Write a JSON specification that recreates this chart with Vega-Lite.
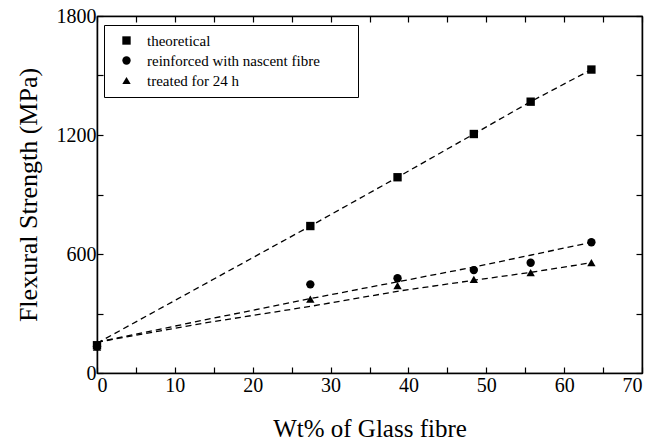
{
  "$schema": "https://vega.github.io/schema/vega-lite/v6.json",
  "width": 545,
  "height": 357,
  "autosize": {"type": "none"},
  "padding": {"left": 97, "top": 16, "right": 22, "bottom": 70},
  "background": "white",
  "config": {
    "font": "Liberation Serif",
    "view": {"stroke": "black", "strokeWidth": 1.2},
    "axis": {
      "grid": false,
      "domainColor": "black",
      "domainWidth": 1.5,
      "tickColor": "black",
      "tickWidth": 1.2,
      "labelColor": "black",
      "titleColor": "black",
      "labelFont": "Liberation Serif",
      "titleFont": "Liberation Serif",
      "labelFontSize": 20,
      "titleFontSize": 25,
      "titleFontWeight": "normal"
    },
    "legend": {"strokeColor": "black", "labelFont": "Liberation Serif"}
  },
  "datasets": {
    "points": [
      {"wt": 0, "strength": 140, "series": "theoretical"},
      {"wt": 27.4, "strength": 741, "series": "theoretical"},
      {"wt": 38.6, "strength": 987, "series": "theoretical"},
      {"wt": 48.4, "strength": 1205, "series": "theoretical"},
      {"wt": 55.7, "strength": 1368, "series": "theoretical"},
      {"wt": 63.5, "strength": 1530, "series": "theoretical"},
      {"wt": 0, "strength": 135, "series": "reinforced with nascent fibre"},
      {"wt": 27.4, "strength": 447, "series": "reinforced with nascent fibre"},
      {"wt": 38.6, "strength": 478, "series": "reinforced with nascent fibre"},
      {"wt": 48.4, "strength": 519, "series": "reinforced with nascent fibre"},
      {"wt": 55.7, "strength": 556, "series": "reinforced with nascent fibre"},
      {"wt": 63.5, "strength": 659, "series": "reinforced with nascent fibre"},
      {"wt": 0, "strength": 130, "series": "treated for 24 h"},
      {"wt": 27.4, "strength": 373, "series": "treated for 24 h"},
      {"wt": 38.6, "strength": 440, "series": "treated for 24 h"},
      {"wt": 48.4, "strength": 472, "series": "treated for 24 h"},
      {"wt": 55.7, "strength": 506, "series": "treated for 24 h"},
      {"wt": 63.5, "strength": 556, "series": "treated for 24 h"}
    ],
    "fits": [
      {"wt": 0, "strength": 150, "fit": "theoretical"},
      {"wt": 27.4, "strength": 741, "fit": "theoretical"},
      {"wt": 38.6, "strength": 987, "fit": "theoretical"},
      {"wt": 48.4, "strength": 1205, "fit": "theoretical"},
      {"wt": 55.7, "strength": 1368, "fit": "theoretical"},
      {"wt": 63.5, "strength": 1530, "fit": "theoretical"},
      {"wt": 0, "strength": 155, "fit": "nascent"},
      {"wt": 13.5, "strength": 265, "fit": "nascent"},
      {"wt": 27.4, "strength": 375, "fit": "nascent"},
      {"wt": 38.9, "strength": 462, "fit": "nascent"},
      {"wt": 48.5, "strength": 535, "fit": "nascent"},
      {"wt": 55.8, "strength": 595, "fit": "nascent"},
      {"wt": 63.5, "strength": 659, "fit": "nascent"},
      {"wt": 0, "strength": 155, "fit": "treated"},
      {"wt": 13.5, "strength": 250, "fit": "treated"},
      {"wt": 27.4, "strength": 336, "fit": "treated"},
      {"wt": 38.9, "strength": 414, "fit": "treated"},
      {"wt": 48.5, "strength": 468, "fit": "treated"},
      {"wt": 55.8, "strength": 508, "fit": "treated"},
      {"wt": 63.5, "strength": 556, "fit": "treated"}
    ]
  },
  "layer": [
    {
      "data": {"name": "fits"},
      "mark": {"type": "line", "stroke": "black", "strokeDash": [6, 4], "strokeWidth": 1.3},
      "encoding": {
        "x": {
          "field": "wt", "type": "quantitative",
          "scale": {"domain": [0, 70], "nice": false},
          "axis": {
            "orient": "top", "labels": false, "title": null,
            "values": [0, 5, 10, 15, 20, 25, 30, 35, 40, 45, 50, 55, 60, 65, 70],
            "tickSize": -6
          }
        },
        "y": {
          "field": "strength", "type": "quantitative",
          "scale": {"domain": [0, 1800], "nice": false},
          "axis": {
            "orient": "right", "labels": false, "title": null,
            "values": [0, 300, 600, 900, 1200, 1500, 1800],
            "tickSize": -6
          }
        },
        "detail": {"field": "fit"}
      }
    },
    {
      "data": {"name": "points"},
      "mark": {"type": "point", "filled": true, "opacity": 1, "color": "black", "size": 70},
      "encoding": {
        "x": {
          "field": "wt", "type": "quantitative",
          "axis": {
            "orient": "bottom", "title": "Wt% of Glass fibre",
            "values": [0, 5, 10, 15, 20, 25, 30, 35, 40, 45, 50, 55, 60, 65, 70],
            "format": "d",
            "labelExpr": "datum.value % 10 === 0 ? datum.label : ''",
            "tickSize": -6,
            "labelPadding": 8,
            "titlePadding": 21
          }
        },
        "y": {
          "field": "strength", "type": "quantitative",
          "axis": {
            "orient": "left", "title": "Flexural Strength (MPa)",
            "titleFontSize": 26,
            "values": [0, 300, 600, 900, 1200, 1500, 1800],
            "format": "d",
            "labelExpr": "datum.value % 600 === 0 ? datum.label : ''",
            "tickSize": -6,
            "labelPadding": 7,
            "titlePadding": 15
          }
        },
        "shape": {
          "field": "series", "type": "nominal",
          "scale": {
            "domain": ["theoretical", "reinforced with nascent fibre", "treated for 24 h"],
            "range": ["square", "circle", "triangle-up"]
          },
          "legend": {
            "title": null,
            "orient": "none",
            "legendX": 7,
            "legendY": 9,
            "padding": 8,
            "symbolOffset": 7,
            "labelOffset": 13,
            "symbolSize": 70,
            "symbolFillColor": "black",
            "symbolStrokeColor": "black",
            "labelFont": "Liberation Serif",
            "labelFontSize": 15,
            "labelColor": "black",
            "labelExpr": "datum.label + '\u2003\u2003\u200b'",
            "rowPadding": 4,
            "labelLimit": 400
          }
        }
      }
    }
  ],
  "resolve": {"axis": {"x": "independent", "y": "independent"}}
}
